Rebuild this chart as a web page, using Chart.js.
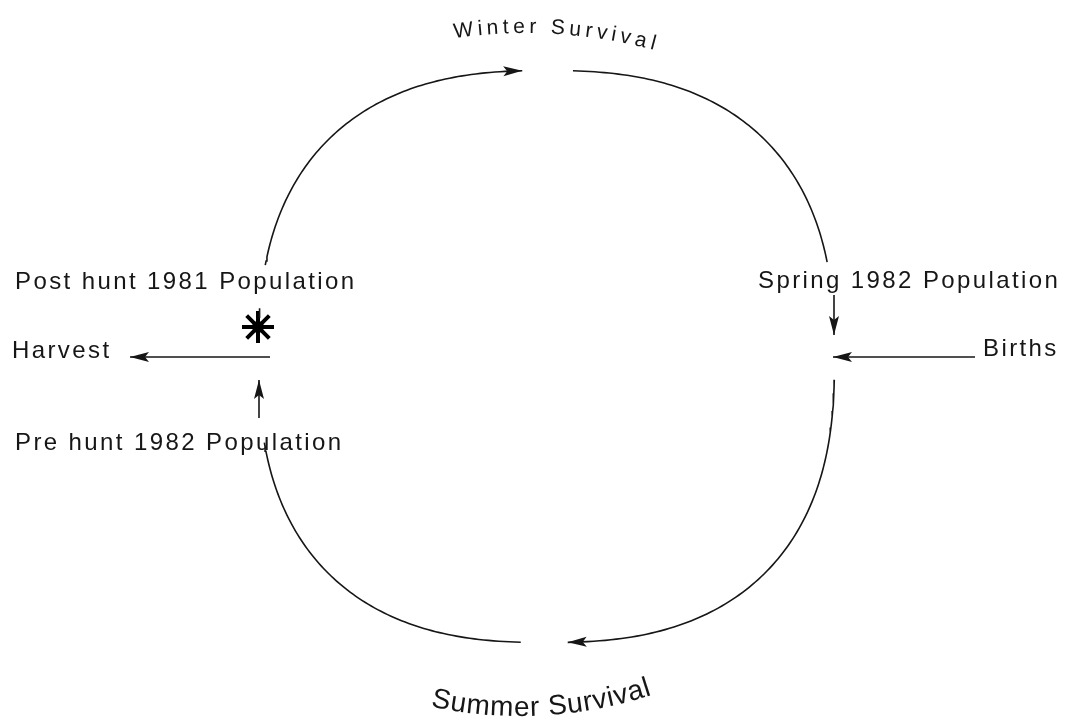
<!DOCTYPE html>
<html><head><meta charset="utf-8">
<script src="https://cdn.jsdelivr.net/npm/chart.js@4.4.1/dist/chart.umd.min.js"></script>
<style>html,body{margin:0;padding:0;background:#fff;overflow:hidden}canvas{display:block}</style>
</head><body>
<canvas id="c" width="1074" height="726"></canvas>
<script>
// ---------------- diagram data (diagram units) ----------------
const stageLabels = ['Post hunt 1981 Population', 'Harvest', 'Pre hunt 1982 Population', 'Spring 1982 Population', 'Births'];
const stageX = [15, 12, 15, 758, 983];
const stageY = [289, 358, 450, 288, 356];

const survivalLabels = ['Winter Survival', 'Summer Survival'];
const survivalCX = [525, 520];
const survivalCY = [533, 296];
const survivalR = [500, 420];
const survivalAngle = [-86.6, 87];   // position of label centre on its arc (deg)
const survivalSide = ['top', 'bottom'];

// cycle loop: segments as angle ranges (deg, counter-clockwise maths angle)
const arcStart = [166.1, 87.1, -2.5, 267.2, 175.2];
const arcEnd   = [92.6, 14.5, -87.8, 192.9, 173.8];
const arcArrow = [true, false, true, false, false];

// straight flows (arrow at end point)
const flowX1 = [270, 975, 259, 834];
const flowY1 = [357, 357, 418, 295];
const flowX2 = [130, 833, 259, 834];
const flowY2 = [357, 357, 380, 335];

// hunt marker
const markerX = [258];
const markerY = [327];

// ---------------- layout / style ----------------
const LOOP = { cx: 546.5, cy: 356.5, a: 288, b: 286, n: 2.5 };
const INK = '#161616';
const LINE_W = 1.6;

function sp(v) { return Math.sign(v) * Math.pow(Math.abs(v), 2 / LOOP.n); }
function loopPoints(t0, t1) {
  const pts = [];
  const steps = 90;
  for (let i = 0; i <= steps; i++) {
    const t = (t0 + (t1 - t0) * i / steps) * Math.PI / 180;
    pts.push({ x: LOOP.cx + LOOP.a * sp(Math.cos(t)), y: LOOP.cy - LOOP.b * sp(Math.sin(t)) });
  }
  return pts;
}

const datasets = [];
arcStart.forEach((s, i) => {
  datasets.push({ type: 'scatter', data: loopPoints(s, arcEnd[i]), showLine: true, pointRadius: 0,
    borderColor: INK, borderWidth: LINE_W, fill: false, tension: 0, arrowEnd: arcArrow[i] });
});
flowX1.forEach((x, i) => {
  datasets.push({ type: 'scatter', data: [{ x: x, y: flowY1[i] }, { x: flowX2[i], y: flowY2[i] }], showLine: true,
    pointRadius: 0, borderColor: INK, borderWidth: LINE_W, fill: false, arrowEnd: true });
});
datasets.push({ type: 'scatter', data: markerX.map((x, i) => ({ x: x, y: markerY[i] })), showLine: false,
  pointStyle: 'star', pointRadius: 16, pointBorderWidth: 4, pointBorderColor: '#000', pointBackgroundColor: '#000' });
datasets.push({ type: 'scatter', data: markerX.map((x, i) => ({ x: x, y: markerY[i] })), showLine: false,
  pointStyle: 'circle', pointRadius: 5, pointBorderWidth: 2, pointBorderColor: '#000', pointBackgroundColor: '#fff' });

const FONT = '"Liberation Sans", Arial, Helvetica, sans-serif';

function drawArrowHead(ctx, x1, y1, x2, y2) {
  const ang = Math.atan2(y2 - y1, x2 - x1);
  const L = 19, H = 5, N = 4;
  ctx.save();
  ctx.translate(x2, y2);
  ctx.rotate(ang);
  ctx.beginPath();
  ctx.moveTo(0, 0);
  ctx.lineTo(-L, -H);
  ctx.lineTo(-L + N, 0);
  ctx.lineTo(-L, H);
  ctx.closePath();
  ctx.fillStyle = INK;
  ctx.fill();
  ctx.restore();
}

function drawArcText(ctx, text, cx, cy, R, centerDeg, side, font, spacing) {
  ctx.save();
  ctx.font = font;
  ctx.fillStyle = INK;
  ctx.textAlign = 'center';
  ctx.textBaseline = 'alphabetic';
  const chars = Array.from(text);
  const widths = chars.map(c => ctx.measureText(c).width);
  const total = widths.reduce((a, b) => a + b, 0) + spacing * (chars.length - 1);
  let s = -total / 2;
  const c0 = centerDeg * Math.PI / 180;
  chars.forEach((ch, i) => {
    const mid = s + widths[i] / 2;
    const th = side === 'top' ? c0 + mid / R : c0 - mid / R;
    const px = cx + R * Math.cos(th), py = cy + R * Math.sin(th);
    ctx.save();
    ctx.translate(px, py);
    ctx.rotate(side === 'top' ? th + Math.PI / 2 : th - Math.PI / 2);
    ctx.fillText(ch, 0, 0);
    ctx.restore();
    s += widths[i] + spacing;
  });
  ctx.restore();
}

const decorations = {
  id: 'decorations',
  afterDatasetsDraw(chart) {
    const ctx = chart.ctx;
    const xs = chart.scales.x, ys = chart.scales.y;
    const unit = Math.abs(xs.getPixelForValue(1) - xs.getPixelForValue(0));
    chart.data.datasets.forEach((ds) => {
      if (!ds.arrowEnd) return;
      const n = ds.data.length;
      const a = ds.data[n - 2], b = ds.data[n - 1];
      drawArrowHead(ctx, xs.getPixelForValue(a.x), ys.getPixelForValue(a.y), xs.getPixelForValue(b.x), ys.getPixelForValue(b.y));
    });
    ctx.save();
    ctx.font = '24px ' + FONT;
    ctx.fillStyle = INK;
    ctx.textAlign = 'left';
    ctx.textBaseline = 'alphabetic';
    try { ctx.letterSpacing = '2.4px'; } catch (e) {}
    stageLabels.forEach((t, i) => ctx.fillText(t, xs.getPixelForValue(stageX[i]), ys.getPixelForValue(stageY[i])));
    ctx.restore();
    const fonts = ['21px ' + FONT, '28px ' + FONT];
    const spacings = [4.3, 0.8];
    survivalLabels.forEach((t, i) => {
      drawArcText(ctx, t, xs.getPixelForValue(survivalCX[i]), ys.getPixelForValue(survivalCY[i]),
        survivalR[i] * unit, survivalAngle[i], survivalSide[i], fonts[i], spacings[i]);
    });
  }
};

new Chart(document.getElementById('c'), {
  type: 'scatter',
  data: { datasets: datasets },
  options: {
    responsive: false,
    animation: false,
    devicePixelRatio: 1,
    events: [],
    layout: { padding: 0, autoPadding: false },
    plugins: { legend: { display: false }, tooltip: { enabled: false }, title: { display: false } },
    scales: {
      x: { type: 'linear', display: false, min: 0, max: 1074 },
      y: { type: 'linear', display: false, min: 0, max: 726, reverse: true }
    },
    elements: { line: { borderCapStyle: 'butt' } }
  },
  plugins: [decorations]
});
</script>
</body></html>
